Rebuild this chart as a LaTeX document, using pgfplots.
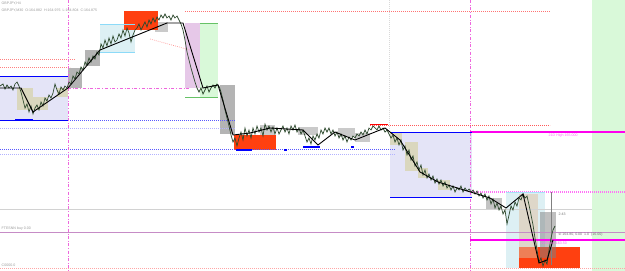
\documentclass[border=0pt]{standalone}
\usepackage{pgfplots}
\pgfplotsset{compat=1.18}
\usepackage{fontspec}
\setmainfont{Liberation Sans}
\definecolor{ored}{HTML}{FF4010}
\definecolor{lgreen}{HTML}{D9F9D9}
\definecolor{lav}{HTML}{E4E4F7}
\definecolor{lblue}{HTML}{DDF0F4}
\definecolor{mauve}{HTML}{E6C8E8}
\definecolor{tan}{HTML}{D8D4B0}
\definecolor{gbox}{HTML}{B4B4B4}
\definecolor{mag}{HTML}{FF00EE}
\definecolor{pinkdd}{HTML}{EE66DD}
\definecolor{candle}{HTML}{2E4A2E}
\newcommand{\tinyf}{\fontsize{3.6}{4}\selectfont}
\tikzset{dots/.style={dash pattern=on 0.8bp off 1.2bp, line width=0.7bp}}
\begin{document}
\begin{tikzpicture}
\begin{axis}[scale only axis, width=625bp, height=271bp,
  xmin=0, xmax=625, ymin=0, ymax=271, y dir=reverse,
  axis lines=none, clip=true]
% background boxes
\addplot[fill=lgreen, draw=none] coordinates {(592,0)(625,0)(625,271)(592,271)};
\addplot[fill=lav, draw=none] coordinates {(0,76)(68,76)(68,120)(0,120)};
\addplot[fill=lav, draw=none] coordinates {(390,132)(472,132)(472,197)(390,197)};
\addplot[fill=lblue, draw=none] coordinates {(100,24)(135,24)(135,52)(100,52)};
\addplot[fill=mauve, draw=none] coordinates {(185,23)(200,23)(200,88)(185,88)};
\addplot[fill=lgreen, draw=none] coordinates {(200,23)(218,23)(218,97)(200,97)};
\addplot[fill=lblue, draw=none] coordinates {(506,192)(545,192)(545,268)(506,268)};
\addplot[fill=tan, draw=none, fill opacity=0.8] coordinates {(17,88)(33,88)(33,110)(17,110)};
\addplot[fill=tan, draw=none, fill opacity=0.8] coordinates {(33,97)(48,97)(48,110)(33,110)};
\addplot[fill=tan, draw=none, fill opacity=0.8] coordinates {(57,88)(68,88)(68,97)(57,97)};
\addplot[fill=tan, draw=none, fill opacity=0.8] coordinates {(390,133)(402,133)(402,145)(390,145)};
\addplot[fill=tan, draw=none, fill opacity=0.8] coordinates {(405,142)(418,142)(418,171)(405,171)};
\addplot[fill=tan, draw=none, fill opacity=0.8] coordinates {(418,168)(428,168)(428,178)(418,178)};
\addplot[fill=tan, draw=none, fill opacity=0.8] coordinates {(438,180)(450,180)(450,190)(438,190)};
\addplot[fill=gbox, draw=none] coordinates {(68,68)(82,68)(82,88)(68,88)};
\addplot[fill=gbox, draw=none] coordinates {(85,50)(100,50)(100,66)(85,66)};
\addplot[fill=gbox, draw=none, fill opacity=0.7] coordinates {(155,22)(168,22)(168,32)(155,32)};
\addplot[fill=gbox, draw=none] coordinates {(220,85)(235,85)(235,134)(220,134)};
\addplot[fill=gbox, draw=none, fill opacity=0.7] coordinates {(260,125)(275,125)(275,135)(260,135)};
\addplot[fill=gbox, draw=none, fill opacity=0.7] coordinates {(298,127)(318,127)(318,135)(298,135)};
\addplot[fill=gbox, draw=none, fill opacity=0.7] coordinates {(338,128)(355,128)(355,137)(338,137)};
\addplot[fill=gbox, draw=none, fill opacity=0.7] coordinates {(355,133)(370,133)(370,142)(355,142)};
\addplot[fill=gbox, draw=none, fill opacity=0.8] coordinates {(486,198)(502,198)(502,210)(486,210)};
\addplot[fill=ored, draw=none] coordinates {(124,11)(158,11)(158,30)(124,30)};
\addplot[fill=ored, draw=none] coordinates {(234,135)(276,135)(276,150)(234,150)};
\addplot[fill=ored, draw=none] coordinates {(519,247)(580,247)(580,268)(519,268)};
\addplot[fill=brown!50, draw=none, fill opacity=0.5] coordinates {(519,194)(538,194)(538,258)(519,258)};
\addplot[fill=gray, draw=none, fill opacity=0.5] coordinates {(540,212)(556,212)(556,258)(540,258)};
% horizontal / vertical lines
\addplot[red!55, dots] coordinates {(185,11)(550,11)};
\addplot[red!50, dots] coordinates {(0,59)(75,59)};
\addplot[red!50, dots] coordinates {(0,67)(70,67)};
\addplot[red!40, dots] coordinates {(150,39)(190,50)};
\addplot[blue, line width=0.9bp] coordinates {(0,76)(68,76)};
\addplot[blue, line width=0.9bp] coordinates {(0,120)(68,120)};
\addplot[blue, line width=1.8bp] coordinates {(15,120)(33,120)};
\addplot[blue!65, dots] coordinates {(68,120)(235,120)};
\addplot[blue!30, dots] coordinates {(0,128)(235,128)};
\addplot[blue!65, dots] coordinates {(0,149)(395,149)};
\addplot[blue!30, dots] coordinates {(0,154)(395,154)};
\addplot[pinkdd, dash dot, line width=0.6bp] coordinates {(68,88)(190,88)};
\addplot[pinkdd, dash dot, line width=0.6bp] coordinates {(68,0)(68,271)};
\addplot[pinkdd, dash dot, line width=0.6bp] coordinates {(470,0)(470,271)};
\addplot[gray!30, dots] coordinates {(389,0)(389,130)};
\addplot[gray!35, line width=0.6bp] coordinates {(0,209)(592,209)};
\addplot[violet!45, line width=0.7bp] coordinates {(0,232)(625,232)};
\addplot[red!35, dots] coordinates {(0,268)(625,268)};
\addplot[mag!55, dots, line width=1.1bp] coordinates {(470,192)(625,192)};
\addplot[mag, line width=1.3bp] coordinates {(470,132)(625,132)};
\addplot[mag, line width=1.3bp] coordinates {(470,240)(625,240)};
\addplot[red!65, dots] coordinates {(370,125)(550,125)};
\addplot[red, line width=1bp] coordinates {(370,124)(388,124)};
\addplot[blue, line width=0.9bp] coordinates {(390,132)(472,132)};
\addplot[blue, line width=0.9bp] coordinates {(390,197)(472,197)};
\addplot[blue, line width=1.8bp] coordinates {(236,150)(252,150)};
\addplot[blue, line width=1.8bp] coordinates {(303,147)(320,147)};
\addplot[blue, line width=1.8bp] coordinates {(284,150)(287,150)};
\addplot[blue, line width=1.8bp] coordinates {(351,147)(354,147)};
\addplot[cyan!45, line width=0.9bp] coordinates {(100,24)(135,24)};
\addplot[cyan!45, line width=0.9bp] coordinates {(100,52)(135,52)};
\addplot[green!60!black!60, line width=0.9bp] coordinates {(200,23)(218,23)};
\addplot[green!60!black!60, line width=0.9bp] coordinates {(185,97)(218,97)};
\addplot[cyan!35, line width=0.9bp] coordinates {(506,192)(545,192)};
\addplot[gray, line width=0.6bp] coordinates {(551,192)(551,265)};
% price
\addplot[candle, line width=0.7bp] coordinates {
(0,86)(3,84)(5,89)(7,85)(9,88)(11,86)(13,90)(15,84)(17,82)(19,86)(21,92)(23,100)(25,108)(27,104)(29,112)(31,106)(33,114)(35,108)(37,105)(39,110)(41,102)(43,106)(45,98)(47,101)(49,95)(51,98)(53,93)(55,84)(57,90)(59,94)(61,87)(63,90)(65,86)(67,88)(69,82)(71,84)(73,76)(75,79)(77,72)(79,74)(81,67)(83,70)(85,62)(87,65)(89,58)(91,62)(93,56)(95,59)(97,52)(99,55)(101,44)(103,48)(105,40)(107,46)(109,38)(111,44)(113,36)(115,42)(117,40)(119,34)(121,38)(123,30)(125,36)(127,28)(129,33)(131,42)(133,35)(135,30)(137,28)(139,24)(141,30)(143,26)(145,22)(147,27)(149,20)(151,24)(153,18)(155,22)(157,17)(159,20)(161,15)(163,18)(165,14)(167,18)(169,16)(171,20)(173,15)(175,18)(177,16)(179,20)(181,24)(183,30)(185,40)(187,52)(189,60)(191,68)(193,75)(195,82)(197,88)(199,92)(201,88)(203,94)(205,90)(207,86)(209,92)(211,88)(213,85)(215,88)(217,84)(219,86)(221,92)(223,100)(225,110)(227,118)(229,126)(231,135)(233,142)(235,138)(237,146)(239,138)(241,132)(243,140)(245,128)(247,136)(249,130)(251,138)(253,128)(255,134)(257,126)(259,132)(261,128)(263,136)(265,124)(267,130)(269,126)(271,132)(273,127)(275,134)(277,128)(279,134)(281,130)(283,126)(285,132)(287,128)(289,134)(291,126)(293,130)(295,125)(297,132)(299,128)(301,134)(303,130)(305,136)(307,142)(309,138)(311,144)(313,136)(315,140)(317,134)(319,138)(321,130)(323,134)(325,128)(327,132)(329,128)(331,134)(333,130)(335,136)(337,132)(339,138)(341,134)(343,140)(345,136)(347,142)(349,137)(351,140)(353,136)(355,138)(357,134)(359,136)(361,132)(363,135)(365,130)(367,134)(369,128)(371,130)(373,126)(375,128)(377,130)(379,126)(381,130)(383,128)(385,132)(387,130)(389,134)(391,138)(393,135)(395,142)(397,138)(399,145)(401,140)(403,150)(405,146)(407,155)(409,150)(411,160)(413,156)(415,166)(417,162)(419,170)(421,165)(423,175)(425,170)(427,178)(429,174)(431,180)(433,176)(435,183)(437,179)(439,184)(441,180)(443,186)(445,182)(447,188)(449,185)(451,190)(453,186)(455,192)(457,188)(459,190)(461,186)(463,192)(465,188)(467,191)(469,189)(471,192)(473,190)(475,194)(477,191)(479,196)(481,193)(483,198)(485,194)(487,200)(489,196)(491,204)(493,199)(495,208)(497,203)(499,210)(501,206)(503,214)(505,210)(507,224)(509,215)(511,206)(513,210)(515,202)(517,206)(519,198)(521,200)(523,194)(525,198)(527,196)(529,205)(531,215)(533,225)(535,238)(537,250)(539,262)(541,258)(543,266)(545,260)(547,264)(549,250)(551,238)(553,230)(555,226)};
% zigzag
\addplot[black, line width=0.9bp] coordinates {(0,88)(21,88)(33,112)(68,88)(100,50)(167,23)(183,23)(203,88)(218,85)(233,135)(250,133)(270,128)(303,130)(318,145)(335,132)(355,140)(385,128)(400,140)(420,172)(438,182)(490,198)(506,208)(523,194)(539,263)(547,260)(553,240)};
% texts
\node[anchor=north west, inner sep=0.5pt, text=gray!80, font=\tinyf] at (axis cs:1,1) {GBPJPY,H4};
\node[anchor=north west, inner sep=0.5pt, text=gray!80, font=\tinyf] at (axis cs:1,8) {GBPJPY,M30 \ O:164.882 \ H:164.976 \ L:164.804 \ C:164.875};
\node[anchor=south west, inner sep=0.5pt, text=gray!80, font=\tinyf] at (axis cs:1,231) {FTESNN buy 0.00};
\node[anchor=south west, inner sep=0.5pt, text=gray!80, font=\tinyf] at (axis cs:1,267) {C0000.0};
\node[anchor=north west, inner sep=0.5pt, text=mag!60, font=\tinyf] at (axis cs:548,133) {21D High 165.000};
\node[anchor=north west, inner sep=0.5pt, text=mag!60, font=\tinyf] at (axis cs:540,241) {21D Low 163.50};
\node[anchor=west, inner sep=0.5pt, text=gray!90!black, font=\tinyf] at (axis cs:558,214) {2:43};
\node[anchor=west, inner sep=0.5pt, text=gray!90!black, font=\tinyf] at (axis cs:558,235) {sl 164.80, 0.00 \ 1.0 \ (16.00)};
\end{axis}
\end{tikzpicture}
\end{document}
